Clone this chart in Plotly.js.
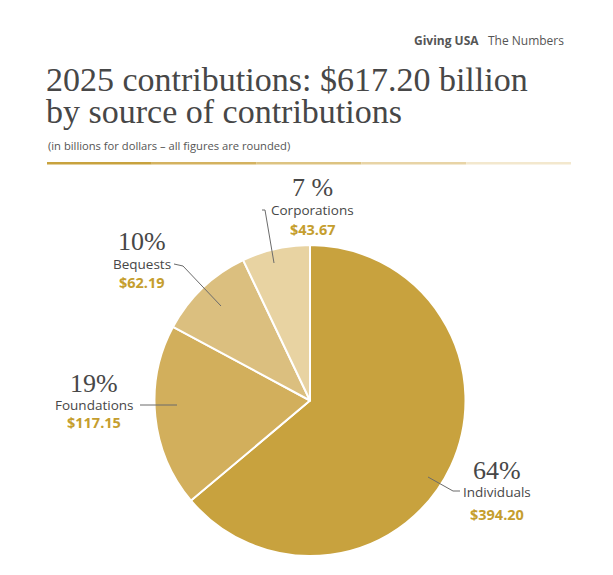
<!DOCTYPE html>
<html>
<head>
<meta charset="utf-8">
<script src="https://cdn.plot.ly/plotly-3.0.1.min.js"></script>
<style>
  html, body { margin: 0; padding: 0; background: #ffffff; }
  #chart { width: 613px; height: 575px; }
</style>
</head>
<body>
<div id="chart"></div>
<script>
// ---- data ----
const categories = ['Individuals', 'Foundations', 'Bequests', 'Corporations'];
const values = [394.20, 117.15, 62.19, 43.67];
const percentLabels = ['64%', '19%', '10%', '7 %'];
const sliceColors = ['#C8A23E', '#D2AF5C', '#DBBF7F', '#E8D3A2'];
const ruleColors = ['#C8A23E', '#D4B25F', '#DDC381', '#E8D4A6', '#F3E8CE'];

const titleLine1 = '2025 contributions: $617.20 billion';
const titleLine2 = 'by source of contributions';
const subtitle = '(in billions for dollars \u2013 all figures are rounded)';

// ---- layout helpers (pixel -> paper, margins are 0) ----
const W = 613, H = 575;
const px = x => x / W;
const py = y => 1 - y / H;

const SERIF = '"Liberation Serif", "DejaVu Serif", serif';
const SANS = '"Open Sans", "Noto Sans", sans-serif';
const TEXT = '#474747';
const GOLD = '#C59E2E';

// label block positions: [centerX, pctY, nameY, valueY]
const labelPos = [
  [497, 470, 492, 514],
  [94, 383, 404.5, 422.5],
  [142, 242, 263.5, 282],
  [313, 187, 210.5, 229.5]
];
// leader lines (pixel polylines)
const leaders = [
  [[428, 477], [453, 491], [460, 491]],
  [[140, 405], [177, 405]],
  [[174, 264], [183, 266], [221, 306]],
  [[262, 210], [265, 210], [274, 263]]
];

const annotations = [];
categories.forEach((c, i) => {
  const [cx, yp, yn, yv] = labelPos[i];
  annotations.push({xref: 'paper', yref: 'paper', x: px(cx), y: py(yp), text: percentLabels[i], borderpad: 0,
    showarrow: false, xanchor: 'center', yanchor: 'middle', font: {family: SERIF, size: 26, color: TEXT}});
  annotations.push({xref: 'paper', yref: 'paper', x: px(cx), y: py(yn), text: c, borderpad: 0,
    showarrow: false, xanchor: 'center', yanchor: 'middle', font: {family: SANS, size: 13.5, color: TEXT}});
  annotations.push({xref: 'paper', yref: 'paper', x: px(cx), y: py(yv), text: '<b>$' + values[i].toFixed(2) + '</b>', borderpad: 0,
    showarrow: false, xanchor: 'center', yanchor: 'middle', font: {family: SANS, size: 14.5, color: GOLD}});
});

// header
annotations.push({xref: 'paper', yref: 'paper', x: px(566), y: py(40), xanchor: 'right', yanchor: 'middle',
  showarrow: false, text: '<b>Giving USA</b>   The Numbers', font: {family: SANS, size: 12, color: '#555555'}});
annotations.push({xref: 'paper', yref: 'paper', x: px(45), y: py(80), xanchor: 'left', yanchor: 'middle', borderpad: 0,
  showarrow: false, text: titleLine1, font: {family: SERIF, size: 34, color: TEXT}});
annotations.push({xref: 'paper', yref: 'paper', x: px(45), y: py(112), xanchor: 'left', yanchor: 'middle', borderpad: 0,
  showarrow: false, text: titleLine2, font: {family: SERIF, size: 34, color: TEXT}});
annotations.push({xref: 'paper', yref: 'paper', x: px(46), y: py(145), xanchor: 'left', yanchor: 'middle',
  showarrow: false, text: subtitle, font: {family: SANS, size: 11.2, color: '#555555'}});

const shapes = [];
// gradient rule under title
const ruleX0 = 47, ruleX1 = 571, seg = (ruleX1 - ruleX0) / ruleColors.length;
ruleColors.forEach((col, i) => {
  shapes.push({type: 'rect', xref: 'paper', yref: 'paper',
    x0: px(ruleX0 + i * seg), x1: px(ruleX0 + (i + 1) * seg), y0: py(164.5), y1: py(162),
    fillcolor: col, line: {width: 0}});
});
leaders.forEach(pts => {
  const d = pts.map((p, k) => (k ? 'L' : 'M') + px(p[0]) + ',' + py(p[1])).join(' ');
  shapes.push({type: 'path', xref: 'paper', yref: 'paper', path: d, line: {color: '#6b6b6b', width: 1}});
});

const trace = {
  type: 'pie',
  labels: categories,
  values: values,
  sort: false,
  direction: 'clockwise',
  rotation: 0,
  textinfo: 'none',
  hoverinfo: 'label+value',
  marker: {colors: sliceColors, line: {color: '#ffffff', width: 2}},
  domain: {x: [px(154.5), px(465.5)], y: [py(556), py(245)]},
  showlegend: false
};

const layout = {
  width: W, height: H,
  margin: {l: 0, r: 0, t: 0, b: 0},
  paper_bgcolor: '#ffffff',
  showlegend: false,
  annotations: annotations,
  shapes: shapes
};

Plotly.newPlot('chart', [trace], layout, {displayModeBar: false, staticPlot: true});
</script>
</body>
</html>
